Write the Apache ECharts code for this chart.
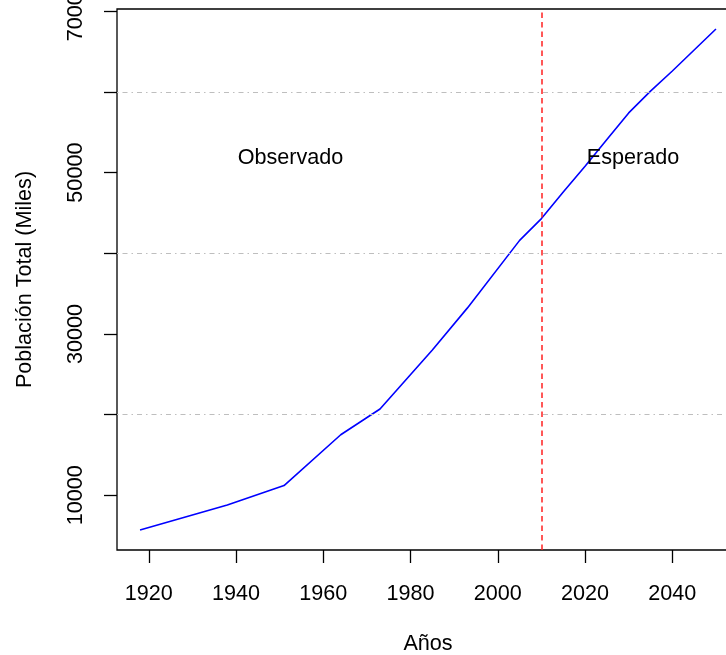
<!DOCTYPE html>
<html>
<head>
<meta charset="utf-8">
<script src="https://cdn.jsdelivr.net/npm/echarts@6/dist/echarts.min.js"></script>
<style>
  html, body { margin: 0; padding: 0; background: #fff; }
  #chart { width: 726px; height: 655px; }
</style>
</head>
<body>
<div id="chart"></div>
<script>
// censos observados
const obsYears = [1918, 1938, 1951, 1964, 1973, 1985, 1993, 2005];
const obsValues = [5700, 8800, 11200, 17500, 20700, 28000, 33200, 41600];
// proyeccion
const projYears = [2010, 2015, 2020, 2025, 2030, 2035, 2040, 2045, 2050];
const projValues = [44300, 47600, 50800, 54100, 57400, 60100, 62600, 65200, 67800];

const xTicks = [1920, 1940, 1960, 1980, 2000, 2020, 2040];
const yTicks = [10000, 20000, 30000, 40000, 50000, 60000, 70000];
const yLabels = [10000, 30000, 50000, 70000];
const gridValues = [20000, 40000, 60000];
const cutYear = 2010;
const notes = [[1952.5, 51800, 'Observado'], [2031, 51800, 'Esperado']];

const font = '"Liberation Sans", Arial, sans-serif';
const fontSize = 21.6;

const years = obsYears.concat(projYears);
const values = obsValues.concat(projValues);
const lineData = years.map((y, i) => [y, values[i]]);

// rango como en R (4% extra a cada lado)
const ext = (lo, hi) => [lo - 0.04 * (hi - lo), hi + 0.04 * (hi - lo)];
const xr = ext(Math.min(...years), Math.max(...years));
const yr = ext(Math.min(...values), Math.max(...values));

const chart = echarts.init(document.getElementById('chart'), null, { renderer: 'canvas' });

chart.setOption({
    animation: false,
    backgroundColor: '#fff',
    textStyle: { fontFamily: font },
    grid: {
        left: 117,
        top: 9,
        bottom: 105,
        right: -13,
        containLabel: false,
        outerBoundsMode: 'none',
        show: true,
        borderColor: '#000',
        borderWidth: 1.3,
        backgroundColor: 'transparent'
    },
    xAxis: {
        type: 'value',
        min: xr[0],
        max: xr[1],
        name: 'Años',
        nameLocation: 'middle',
        nameGap: 83,
        nameTextStyle: { color: '#000', fontSize: fontSize, fontFamily: font },
        axisLine: { show: false },
        axisTick: {
            show: true,
            length: 13,
            customValues: xTicks,
            lineStyle: { color: '#000', width: 1.3 }
        },
        axisLabel: {
            customValues: xTicks,
            color: '#000',
            fontSize: fontSize,
            fontFamily: font,
            margin: 33,
            formatter: v => String(v)
        },
        splitLine: { show: false }
    },
    yAxis: {
        type: 'value',
        min: yr[0],
        max: yr[1],
        name: 'Población Total (Miles)',
        nameLocation: 'middle',
        nameGap: 81,
        nameTextStyle: { color: '#000', fontSize: fontSize, fontFamily: font },
        axisLine: { show: false },
        axisTick: {
            show: true,
            length: 13,
            customValues: yTicks,
            lineStyle: { color: '#000', width: 1.3 }
        },
        axisLabel: {
            customValues: yLabels,
            rotate: 90,
            color: '#000',
            fontSize: fontSize,
            fontFamily: font,
            margin: 30,
            formatter: v => String(v)
        },
        splitLine: { show: false }
    },
    series: [
        {
            type: 'line',
            data: lineData,
            symbol: 'none',
            lineStyle: { color: '#0000ff', width: 1.6 },
            markLine: {
                silent: true,
                symbol: 'none',
                label: { show: false },
                data: gridValues.map(v => ({
                    yAxis: v,
                    lineStyle: { color: '#bebebe', width: 1.2, type: [1.5, 4, 5, 4] }
                })).concat([{
                    xAxis: cutYear,
                    lineStyle: { color: '#ff2020', width: 1.5, type: [5.5, 4] }
                }])
            },
            z: 3
        },
        {
            type: 'scatter',
            data: notes.map(n => ({ value: [n[0], n[1]], name: n[2] })),
            symbolSize: 0,
            silent: true,
            itemStyle: { opacity: 1, color: '#000' },
            label: {
                show: true,
                position: 'inside',
                formatter: p => p.name,
                color: '#000',
                opacity: 1,
                textBorderWidth: 0,
                fontSize: fontSize,
                fontFamily: font
            },
            z: 4
        }
    ]
});
</script>
</body>
</html>
